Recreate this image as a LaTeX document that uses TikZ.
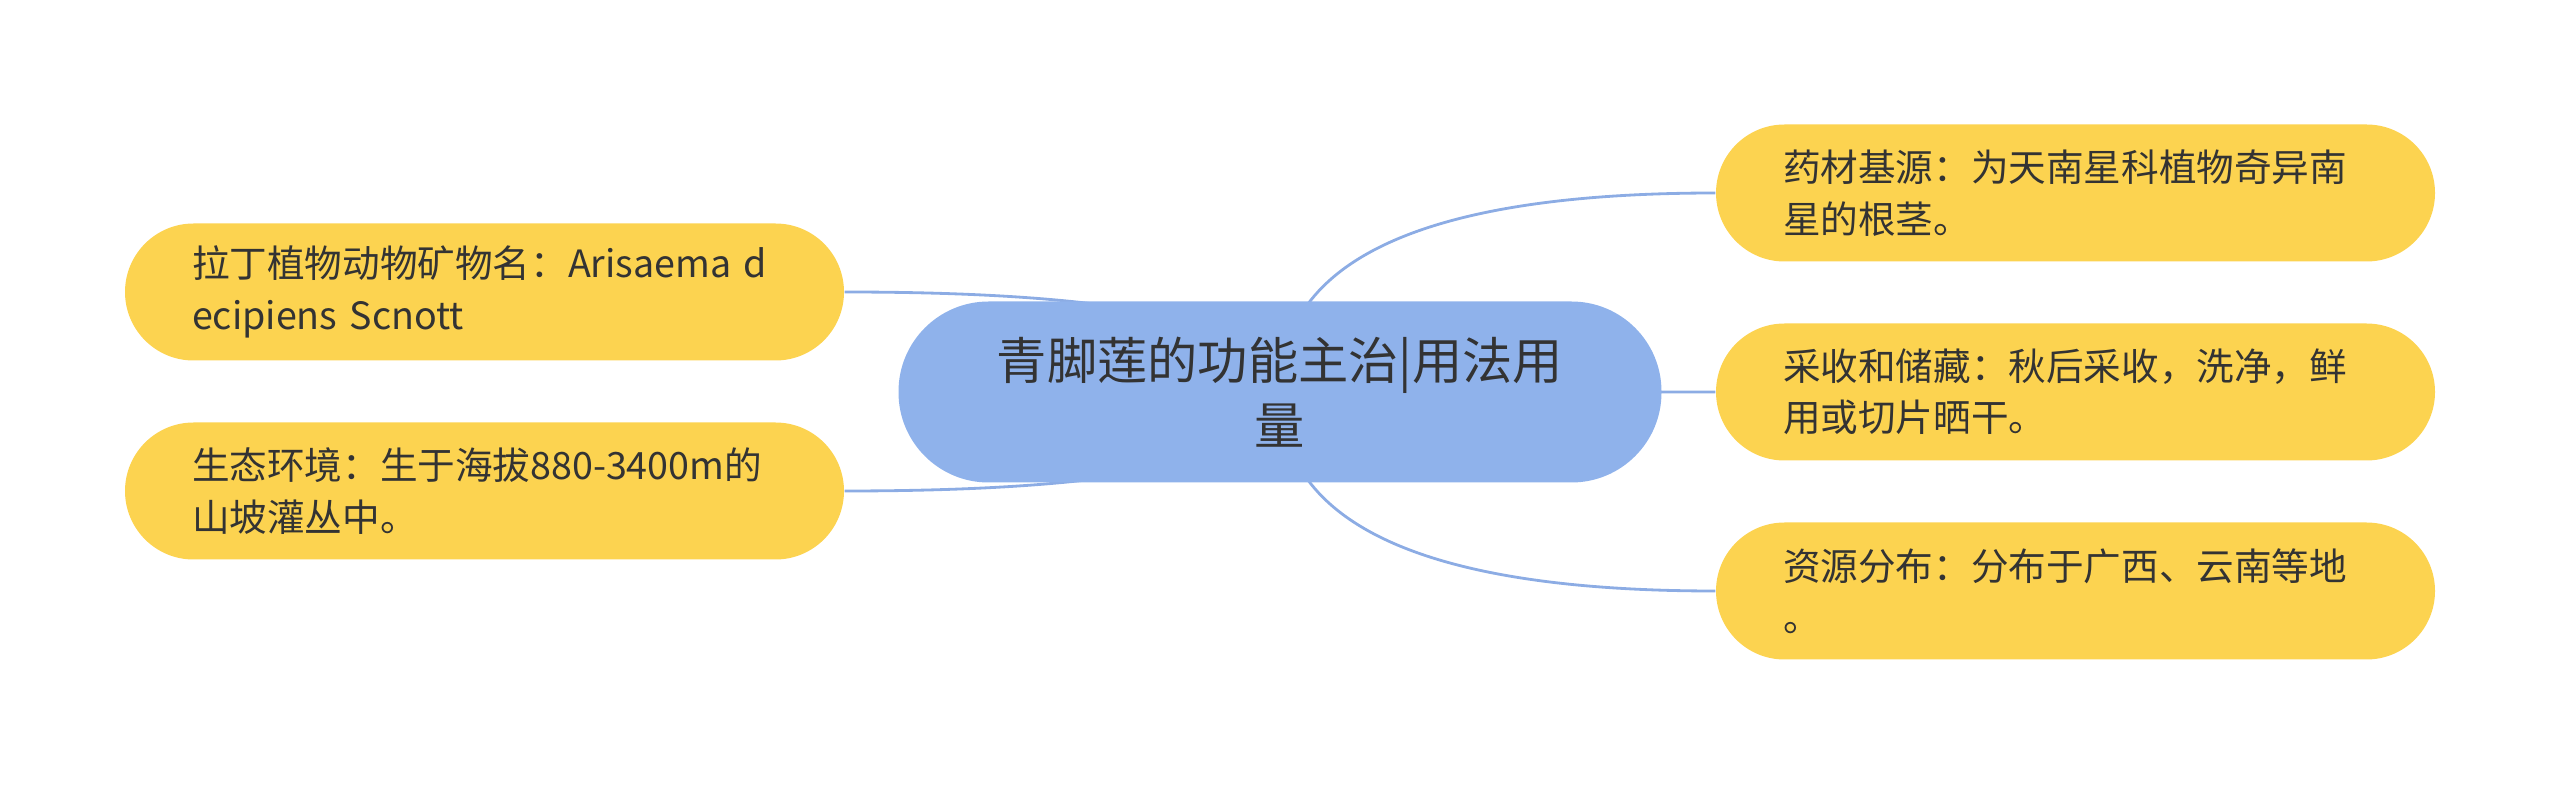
\documentclass[tikz,border=0pt]{standalone}
\usepackage{fontspec}
\setmainfont{Noto Sans CJK SC}
\usepackage{tikz}
\usetikzlibrary{calc,backgrounds}
\newcommand{\hubfont}{\fontsize{14.3pt}{18.6pt}\selectfont}
\newcommand{\leaffont}{\fontsize{10.7pt}{14.6pt}\selectfont}
\definecolor{hubblue}{RGB}{143,178,235}
\definecolor{linkblue}{RGB}{140,172,228}
\definecolor{leafyellow}{RGB}{252,211,80}
\definecolor{inkgray}{RGB}{51,51,51}
\tikzset{
  hub/.style    = {fill=hubblue, text=inkgray, align=center, font=\hubfont,
                   minimum width=7.63cm, minimum height=1.81cm, rounded corners=0.9cm},
  leaf/.style   = {fill=leafyellow, text=inkgray, align=left, font=\leaffont,
                   text width=5.85cm, inner xsep=0.67cm, minimum height=1.37cm,
                   rounded corners=0.685cm},
  branch/.style = {draw=linkblue, line width=0.8pt}
}

\begin{document}
\begin{tikzpicture}
    \useasboundingbox (0,0) rectangle (25.6,7.85);

    % central topic
    \node[hub] (hub) at (12.80,3.93) {青脚莲的功能主治|用法用\\量};

    % left side
    \node[leaf] (latin) at (4.845,4.93) {拉丁植物动物矿物名：Arisaema d\\ecipiens Scnott};
    \node[leaf] (habitat) at (4.845,2.94) {生态环境：生于海拔880-3400m的\\山坡灌丛中。};

    % right side
    \node[leaf] (source) at (20.755,5.92) {药材基源：为天南星科植物奇异南\\星的根茎。};
    \node[leaf] (harvest) at (20.755,3.93) {采收和储藏：秋后采收，洗净，鲜\\用或切片晒干。};
    \node[leaf] (spread) at (20.755,1.94) {资源分布：分布于广西、云南等地\\。};

    % connectors (behind the nodes)
    \begin{scope}[on background layer]
      \foreach \leaf in {source,harvest,spread}{
        \draw[branch] (hub.center)
          .. controls ($(hub.center)!2/3!(hub.center |- \leaf.west)$)
          and ($(\leaf.west)!2/3!(hub.center |- \leaf.west)$) .. (\leaf.west);
      }
      \foreach \leaf in {latin,habitat}{
        \draw[branch] (hub.center)
          .. controls ($(hub.center)!2/3!(hub.center |- \leaf.east)$)
          and ($(\leaf.east)!2/3!(hub.center |- \leaf.east)$) .. (\leaf.east);
      }
    \end{scope}
\end{tikzpicture}
\end{document}
